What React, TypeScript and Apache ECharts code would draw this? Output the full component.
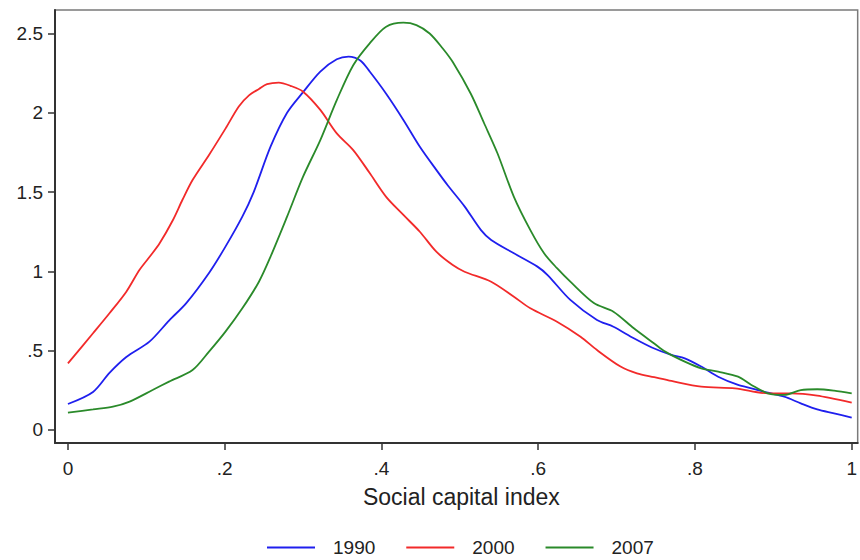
import React, { useEffect, useRef } from "react";
import * as echarts from "echarts";

const xTicks = [0, 0.2, 0.4, 0.6, 0.8, 1];
const yTicks = [0, 0.5, 1, 1.5, 2, 2.5];

const x1990 = [0, 0.032, 0.053, 0.0745, 0.104, 0.129, 0.151, 0.18, 0.201, 0.2225, 0.237, 0.2585, 0.2796, 0.3, 0.322, 0.343, 0.358, 0.373, 0.385, 0.406, 0.428, 0.449, 0.47, 0.485, 0.506, 0.527, 0.54, 0.569, 0.599, 0.612, 0.641, 0.675, 0.696, 0.722, 0.745, 0.77, 0.787, 0.808, 0.8296, 0.855, 0.872, 0.893, 0.914, 0.935, 0.956, 0.9775, 1.0];
const y1990 = [0.164, 0.24, 0.36, 0.46, 0.557, 0.69, 0.8, 0.99, 1.156, 1.345, 1.5, 1.786, 2.0, 2.13, 2.26, 2.337, 2.354, 2.33, 2.26, 2.12, 1.955, 1.786, 1.64, 1.54, 1.41, 1.26, 1.198, 1.114, 1.03, 0.977, 0.82, 0.694, 0.651, 0.578, 0.52, 0.473, 0.452, 0.4, 0.336, 0.284, 0.263, 0.235, 0.21, 0.168, 0.13, 0.105, 0.078];

const x2000 = [0, 0.032, 0.053, 0.0745, 0.0914, 0.106, 0.117, 0.134, 0.146, 0.159, 0.18, 0.201, 0.218, 0.231, 0.2437, 0.254, 0.269, 0.284, 0.3, 0.322, 0.343, 0.364, 0.385, 0.406, 0.428, 0.449, 0.47, 0.491, 0.506, 0.54, 0.569, 0.59, 0.624, 0.654, 0.675, 0.705, 0.726, 0.748, 0.77, 0.808, 0.851, 0.893, 0.9226, 0.956, 1.0];
const y2000 = [0.42, 0.61, 0.736, 0.872, 1.01, 1.103, 1.177, 1.324, 1.45, 1.576, 1.734, 1.9, 2.04, 2.11, 2.15, 2.18, 2.19, 2.17, 2.133, 2.018, 1.87, 1.765, 1.62, 1.47, 1.356, 1.25, 1.124, 1.04, 0.998, 0.935, 0.84, 0.767, 0.683, 0.588, 0.504, 0.4, 0.357, 0.333, 0.309, 0.273, 0.263, 0.231, 0.231, 0.216, 0.172];

const x2007 = [0, 0.032, 0.0575, 0.0787, 0.108, 0.129, 0.159, 0.18, 0.201, 0.2225, 0.2437, 0.2585, 0.2796, 0.3, 0.322, 0.343, 0.364, 0.385, 0.406, 0.428, 0.4446, 0.4615, 0.478, 0.491, 0.514, 0.531, 0.548, 0.569, 0.59, 0.6075, 0.624, 0.641, 0.671, 0.696, 0.722, 0.748, 0.762, 0.787, 0.808, 0.8296, 0.855, 0.872, 0.893, 0.914, 0.935, 0.956, 0.9775, 1.0];
const y2007 = [0.109, 0.13, 0.147, 0.179, 0.252, 0.305, 0.378, 0.494, 0.62, 0.767, 0.935, 1.093, 1.345, 1.597, 1.828, 2.08, 2.3, 2.438, 2.543, 2.568, 2.553, 2.5, 2.407, 2.32, 2.12, 1.934, 1.745, 1.47, 1.26, 1.114, 1.02, 0.935, 0.8, 0.746, 0.641, 0.545, 0.494, 0.431, 0.389, 0.368, 0.336, 0.284, 0.231, 0.221, 0.252, 0.257, 0.248, 0.231];

const seriesNames = ["1990", "2000", "2007"];
const seriesColors = ["#1f1fee", "#f22a2a", "#2a8a2a"];

const fmt = (v: number) => {
  if (v === 0) return "0";
  if (v === 1) return "1";
  const s = String(Math.round(v * 10) / 10);
  return s.replace(/^0\./, ".");
};

const FONT = "'Liberation Sans', Arial, Helvetica, sans-serif";

export default function App() {
  const ref = useRef<HTMLDivElement>(null);
  useEffect(() => {
    if (!ref.current) return;
    const chart = echarts.init(ref.current, null, { renderer: "svg" });
    const pairs = (xs: number[], ys: number[]) => xs.map((x, i) => [x, ys[i]]);
    const datasets = [pairs(x1990, y1990), pairs(x2000, y2000), pairs(x2007, y2007)];
    chart.setOption({
      animation: false,
      backgroundColor: "#ffffff",
      textStyle: { fontFamily: FONT },
      grid: {
        left: 55,
        top: 10,
        right: -2,
        bottom: 117,
        show: true,
        borderColor: "#7a7a7a",
        borderWidth: 1.5,
        backgroundColor: "transparent",
      },
      xAxis: {
        type: "value",
        min: -0.0165,
        max: 1.0076,
        name: "Social capital index",
        nameLocation: "middle",
        nameGap: 42,
        nameTextStyle: { fontSize: 23, color: "#222", fontFamily: FONT, padding: [0, 0, 0, 10] },
        axisLine: { show: true, onZero: false, lineStyle: { color: "#333", width: 2 } },
        axisTick: { show: true, length: 7, customValues: xTicks, lineStyle: { color: "#333", width: 1.5 } },
        axisLabel: { customValues: xTicks, formatter: fmt, fontSize: 19, color: "#222", margin: 16, fontFamily: FONT },
        splitLine: { show: false },
      },
      yAxis: {
        type: "value",
        min: -0.082,
        max: 2.648,
        axisLine: { show: true, onZero: false, lineStyle: { color: "#333", width: 2 } },
        axisTick: { show: true, length: 7, customValues: yTicks, lineStyle: { color: "#333", width: 1.5 } },
        axisLabel: { customValues: yTicks, formatter: fmt, fontSize: 19, color: "#222", margin: 12, fontFamily: FONT },
        splitLine: { show: false },
      },
      legend: {
        bottom: -2,
        left: 262,
        itemWidth: 48,
        itemHeight: 2,
        itemGap: 31,
        icon: "rect",
        data: seriesNames,
        textStyle: { fontSize: 19, color: "#222", fontFamily: FONT, padding: [0, 0, 0, 13] },
      },
      series: seriesNames.map((name, i) => ({
        name,
        type: "line",
        data: datasets[i],
        smooth: 0.3,
        showSymbol: false,
        symbol: "none",
        color: seriesColors[i],
        lineStyle: { color: seriesColors[i], width: 1.8 },
      })),
    });
    return () => chart.dispose();
  }, []);
  return <div ref={ref} style={{ width: 860, height: 560, position: "absolute", left: 0, top: 0 }} />;
}
